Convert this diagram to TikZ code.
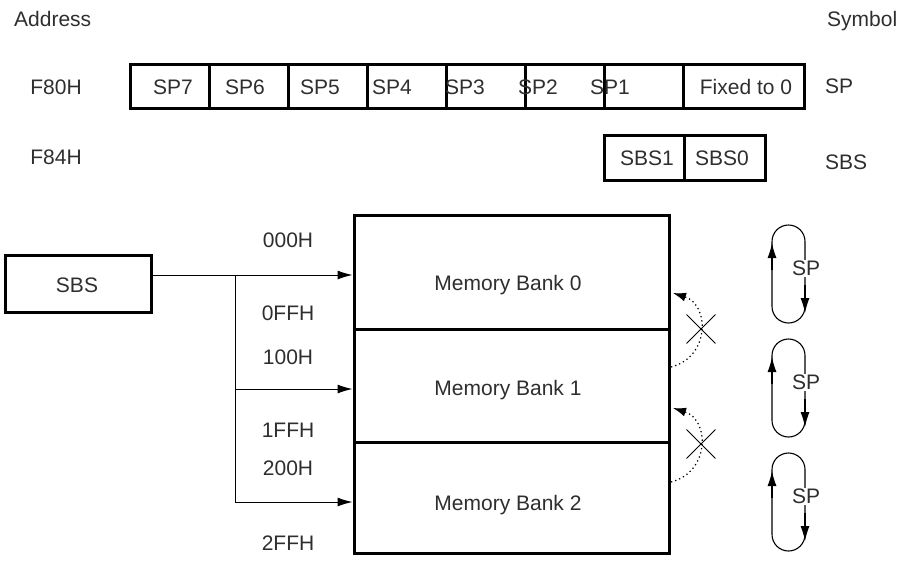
\documentclass[tikz,border=0pt]{standalone}
\usepackage{fontspec}
\setmainfont{Liberation Sans}
\usetikzlibrary{arrows.meta,shapes.misc}
\definecolor{txtgray}{gray}{0.18}
\tikzstyle{regcell}=[rectangle,draw,line width=3pt,inner sep=0pt]
\tikzstyle{lbl}=[inner sep=0pt,text height=15pt,text depth=0pt,text=txtgray]
\tikzstyle{thinedge}=[draw,line width=1pt]
\tikzstyle{edge}=[draw,line width=1pt,-{Latex[length=15pt,width=9pt]}]
\tikzstyle{dotedge}=[draw,line width=1.2pt,dash pattern=on 1.3pt off 3pt,-{Latex[length=13pt,width=9pt]}]
\tikzstyle{loopline}=[draw,line width=1.1pt]
\tikzstyle{looparrow}=[draw,line width=1.1pt,-{Latex[length=15pt,width=9pt]}]
\tikzstyle{blocked}=[cross out,draw,line width=0.9pt,minimum size=28pt,inner sep=0pt]

\begin{document}
\begin{tikzpicture}[x=1pt,y=-1pt,font=\fontsize{21}{24}\selectfont]
    \useasboundingbox (0,0) rectangle (901,563);

% Header
    \node[lbl,anchor=west] (addr) at (14,19) {Address};
    \node[lbl,anchor=west] (sym) at (827,19) {Symbol};

% SP register
    \node[lbl] (a80) at (56,87) {F80H};
    \foreach \x/\name in {130/c7, 209/c6, 288/c5, 367/c4, 446/c3, 525/c2, 604/c1}
        \node[regcell,minimum width=79pt,minimum height=44pt] (\name) at (\x+39.5,86) {};
    \node[regcell,minimum width=121pt,minimum height=44pt] (c0) at (743.5,86) {};
    \foreach \x/\name/\txt in {173/t7/SP7, 245/t6/SP6, 320/t5/SP5, 392/t4/SP4, 465/t3/SP3, 538/t2/SP2, 610/t1/SP1}
        \node[lbl] (\name) at (\x,87) {\txt};
    \node[lbl] (t0) at (746,87) {Fixed to 0};
    \node[lbl,anchor=west] (symsp) at (825,86) {SP};

% SBS register
    \node[lbl] (a84) at (56,157) {F84H};
    \node[regcell,minimum width=80pt,minimum height=45pt] (b1) at (644,157.5) {};
    \node[regcell,minimum width=81pt,minimum height=45pt] (b0) at (724.5,157.5) {};
    \node[lbl] (tb1) at (647,158) {SBS1};
    \node[lbl] (tb0) at (722,158) {SBS0};
    \node[lbl,anchor=west] (symsbs) at (825,162) {SBS};

% Memory banks
    \node[regcell,minimum width=146pt,minimum height=57pt] (sbs) at (78,283.5) {};
    \node[lbl] (tsbs) at (77,285) {SBS};
    \node[regcell,minimum width=315pt,minimum height=114pt] (bank0) at (511.5,272) {};
    \node[regcell,minimum width=315pt,minimum height=113pt] (bank1) at (511.5,385.5) {};
    \node[regcell,minimum width=315pt,minimum height=111pt] (bank2) at (511.5,497.5) {};
    \foreach \y/\name/\n in {283/m0/0, 388/m1/1, 503/m2/2}
        \node[lbl] (\name) at (508,\y) {Memory Bank \n};

    \foreach \y/\name/\txt in {240/h0/000H, 313/h1/0FFH, 357/h2/100H, 430/h3/1FFH, 468/h4/200H, 543/h5/2FFH}
        \node[lbl] (\name) at (288,\y) {\txt};

 % Edges
    \coordinate (j0) at (235,275);
    \coordinate (j1) at (235,389);
    \coordinate (j2) at (235,502);
    \path[thinedge] (sbs.east |- j0) -- (j0);
    \path[thinedge] (j0) -- (j2);
    \foreach \src/\dest in {j0/bank0, j1/bank1, j2/bank2}
        \path[edge] (\src) -- (\dest.west |- \src);

 % Overflow (not allowed)
    \coordinate (d0s) at (671,367);
    \coordinate (d0e) at (673,293);
    \coordinate (d1s) at (671,482);
    \coordinate (d1e) at (673,408);
    \path[dotedge] (d0s) .. controls (710,357) and (710,305) .. (d0e);
    \path[dotedge] (d1s) .. controls (710,472) and (710,420) .. (d1e);
    \node[blocked] (x0) at (701,329) {};
    \node[blocked] (x1) at (701,444) {};

 % SP loops
    \foreach \top/\name in {225/s0, 339/s1, 453/s2} {
        \path[loopline] (772,\top+81.5) -- (772,\top+16.5) arc (180:360:16.5) -- (805,\top+81.5) arc (0:180:16.5);
        \path[looparrow] (772,\top+45) -- (772,\top+18);
        \path[looparrow] (805,\top+60) -- (805,\top+88);
        \node[lbl,fill=white,inner sep=1pt] (\name) at (806,\top+43) {SP};
    }

\end{tikzpicture}
\end{document}
